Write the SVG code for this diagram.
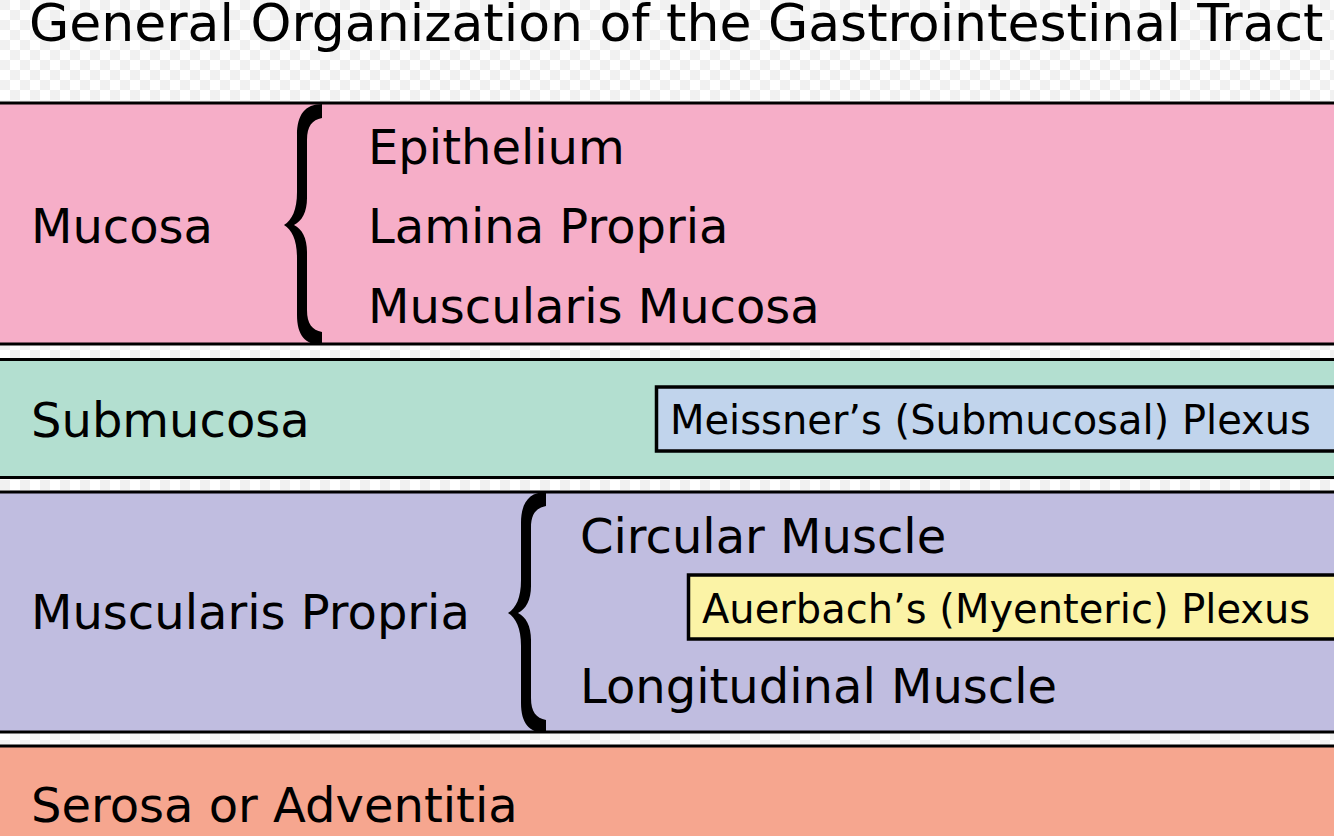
<svg xmlns="http://www.w3.org/2000/svg" xmlns:xlink="http://www.w3.org/1999/xlink" width="1334" height="836" viewBox="0 0 1334 836">
  <defs>
    <pattern id="checker" width="20" height="20" patternUnits="userSpaceOnUse">
      <rect width="20" height="20" fill="#ffffff"/>
      <rect width="10" height="10" fill="#f1f1f1"/>
      <rect x="10" y="10" width="10" height="10" fill="#f1f1f1"/>
    </pattern>
    <path id="brace" d="M322,104 L322,118 C312,120 307,126 307,140 L307,198 C307,212 302,221 294,225 C302,229 307,238 307,252 L307,310 C307,324 312,330 322,332 L322,345 C305,345 297,335 297,315 L297,258 C297,240 292,230 284,225 C292,220 297,210 297,192 L297,135 C297,115 305,104 322,104 Z"/>
  </defs>
  <style>
    .band { stroke: #000; stroke-width: 3; }
    .box { stroke: #000; stroke-width: 3.5; }
    .t { font-family: "DejaVu Sans", "Liberation Sans", sans-serif; fill: #000; }
    .big { font-size: 48px; }
    .small { font-size: 40px; }
    .brace { fill: #000; }
  </style>
  <rect width="1334" height="836" fill="url(#checker)"/>

  <g id="title">
    <text class="t" x="29" y="41" font-size="52">General Organization of the Gastrointestinal Tract</text>
  </g>

  <g id="mucosa">
    <rect class="band" x="-10" y="103" width="1360" height="241" fill="#f6aec8"/>
    <text class="t big" x="31" y="243">Mucosa</text>
    <text class="t big" x="368" y="164">Epithelium</text>
    <text class="t big" x="368" y="243">Lamina Propria</text>
    <text class="t big" x="368" y="323">Muscularis Mucosa</text>
  </g>

  <g id="submucosa">
    <rect class="band" x="-10" y="359.5" width="1360" height="118" fill="#b3dfd0"/>
    <text class="t big" x="31" y="437">Submucosa</text>
  </g>

  <g id="meissner">
    <rect class="box" x="656.5" y="387" width="700" height="64" fill="#c1d4ec"/>
    <text class="t small" x="670" y="434" font-size="40.2">Meissner’s (Submucosal) Plexus</text>
  </g>

  <g id="muscularis-propria">
    <rect class="band" x="-10" y="492" width="1360" height="240" fill="#c0bde0"/>
    <text class="t big" x="31" y="629">Muscularis Propria</text>
    <text class="t big" x="580" y="553">Circular Muscle</text>
    <text class="t big" x="580" y="703">Longitudinal Muscle</text>
  </g>

  <g id="auerbach">
    <rect class="box" x="688.5" y="575" width="700" height="64" fill="#fbf3a6"/>
    <text class="t small" x="702" y="623">Auerbach’s (Myenteric) Plexus</text>
  </g>

  <g id="serosa">
    <rect class="band" x="-10" y="746" width="1360" height="120" fill="#f6a68f"/>
    <text class="t big" x="31" y="822">Serosa or Adventitia</text>
  </g>

  <g id="connectors">
    <use xlink:href="#brace" class="brace"/>
    <use xlink:href="#brace" class="brace" transform="translate(224,388)"/>
  </g>
</svg>
